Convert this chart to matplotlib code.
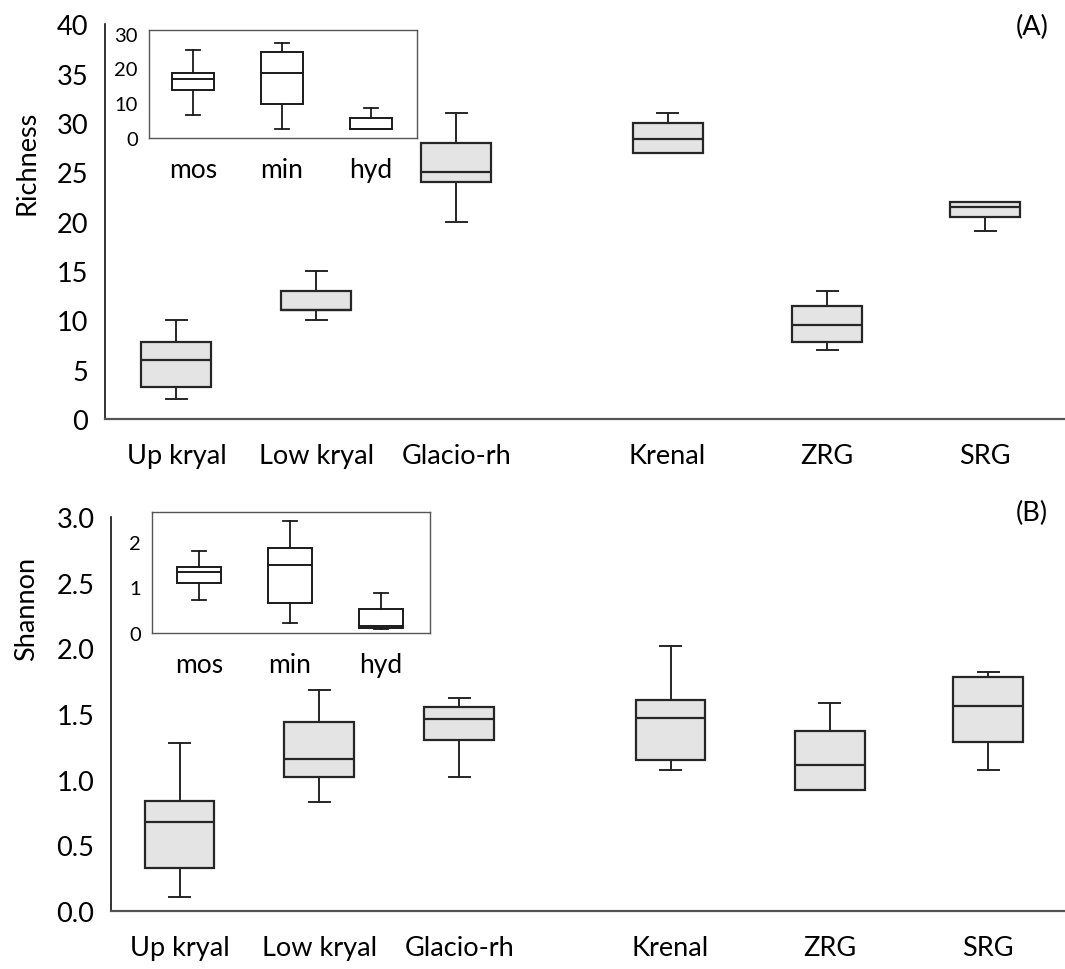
import matplotlib.pyplot as plt

plt.rcParams['font.family'] = ['Lato', 'DejaVu Sans']

# main panels
sites = ["Up kryal", "Low kryal", "Glacio-rh", "Krenal", "ZRG", "SRG"]

rich_whislo = [2, 10, 20, 27, 7, 19]
rich_q1 = [3.2, 11, 24, 27, 7.8, 20.5]
rich_med = [6, 11, 25, 28.4, 9.5, 21.5]
rich_q3 = [7.8, 13, 28, 30, 11.4, 22]
rich_whishi = [10, 15, 31, 31, 13, 22]

shan_whislo = [0.11, 0.83, 1.02, 1.07, 0.92, 1.07]
shan_q1 = [0.33, 1.02, 1.30, 1.15, 0.92, 1.29]
shan_med = [0.68, 1.16, 1.46, 1.47, 1.11, 1.56]
shan_q3 = [0.84, 1.44, 1.55, 1.61, 1.37, 1.78]
shan_whishi = [1.28, 1.68, 1.62, 2.02, 1.58, 1.82]

# insets
groups = ["mos", "min", "hyd"]

in_rich_whislo = [6.6, 2.6, 2.6]
in_rich_q1 = [13.7, 9.7, 2.6]
in_rich_med = [16.9, 18.6, 2.6]
in_rich_q3 = [18.6, 24.6, 5.7]
in_rich_whishi = [25.4, 27.4, 8.6]

in_shan_whislo = [0.73, 0.22, 0.08]
in_shan_q1 = [1.10, 0.66, 0.11]
in_shan_med = [1.34, 1.49, 0.15]
in_shan_q3 = [1.45, 1.87, 0.53]
in_shan_whishi = [1.80, 2.46, 0.88]

pos = [1, 2, 3, 4.51, 5.65, 6.78]


def stats(lo, q1, med, q3, hi):
    return [dict(whislo=a, q1=b, med=c, q3=d, whishi=e, fliers=[])
            for a, b, c, d, e in zip(lo, q1, med, q3, hi)]


def main_panel(ax, st, ylim, yticks, ylabels, xl):
    ec = '#262626'
    ax.bxp(st, positions=pos, widths=0.5, capwidths=0.15, patch_artist=True,
           showfliers=False,
           boxprops=dict(facecolor='#e4e4e4', edgecolor=ec, linewidth=1.6),
           medianprops=dict(color=ec, linewidth=1.6),
           whiskerprops=dict(color=ec, linewidth=1.4),
           capprops=dict(color=ec, linewidth=1.4))
    ax.set_xlim(xl)
    ax.set_ylim(ylim)
    ax.set_yticks(yticks)
    ax.set_yticklabels(ylabels)
    ax.set_xticks(pos)
    ax.set_xticklabels(sites)
    ax.tick_params(length=0, labelsize=19.5)
    ax.tick_params(axis='x', pad=17)
    ax.tick_params(axis='y', pad=12)
    for s in ['top', 'right']:
        ax.spines[s].set_visible(False)
    ax.spines['left'].set_color('#111111')
    ax.spines['left'].set_linewidth(1.2)
    ax.spines['bottom'].set_color('#555555')
    ax.spines['bottom'].set_linewidth(1.6)


def inset(ax, st, ylim, yticks, xl):
    ec = '#1a1a1a'
    ax.bxp(st, positions=[1, 2, 3], widths=0.48, capwidths=0.16,
           patch_artist=True, showfliers=False,
           boxprops=dict(facecolor='white', edgecolor=ec, linewidth=1.4),
           medianprops=dict(color=ec, linewidth=1.4),
           whiskerprops=dict(color=ec, linewidth=1.3),
           capprops=dict(color=ec, linewidth=1.3))
    ax.set_xlim(xl)
    ax.set_ylim(ylim)
    ax.set_yticks(yticks)
    ax.set_xticks([1, 2, 3])
    ax.set_xticklabels(groups)
    ax.tick_params(length=0)
    ax.tick_params(axis='y', labelsize=14.5, pad=8)
    ax.tick_params(axis='x', labelsize=19, pad=14)
    for s in ax.spines.values():
        s.set_color('#555555')
        s.set_linewidth(1.0)


fig = plt.figure(figsize=(10.65, 9.7), dpi=100)

ax1 = fig.add_axes([0.0986, 0.567, 0.9014, 0.407])
main_panel(ax1, stats(rich_whislo, rich_q1, rich_med, rich_q3, rich_whishi),
           (0, 40), range(0, 41, 5), [str(v) for v in range(0, 41, 5)],
           (0.49, 7.35))
fig.text(0.025, 0.832, "Richness", rotation=90, fontsize=19.5,
         ha='center', va='center')
fig.text(0.969, 0.972, "(A)", fontsize=19.5, ha='center', va='center')

ax2 = fig.add_axes([0.1042, 0.0598, 0.8958, 0.4062])
main_panel(ax2, stats(shan_whislo, shan_q1, shan_med, shan_q3, shan_whishi),
           (0, 3), [0, 0.5, 1, 1.5, 2, 2.5, 3],
           ["0.0", "0.5", "1.0", "1.5", "2.0", "2.5", "3.0"], (0.51, 7.33))
fig.text(0.025, 0.372, "Shannon", rotation=90, fontsize=19.5,
         ha='center', va='center')
fig.text(0.969, 0.471, "(B)", fontsize=19.5, ha='center', va='center')

ia = fig.add_axes([0.1399, 0.8567, 0.2516, 0.1113])
inset(ia, stats(in_rich_whislo, in_rich_q1, in_rich_med, in_rich_q3,
                in_rich_whishi), (0, 31), [0, 10, 20, 30], (0.506, 3.517))

ib = fig.add_axes([0.1427, 0.3464, 0.261, 0.1247])
inset(ib, stats(in_shan_whislo, in_shan_q1, in_shan_med, in_shan_q3,
                in_shan_whishi), (0, 2.65), [0, 1, 2], (0.48, 3.54))

fig.savefig("out.png", dpi=100)
